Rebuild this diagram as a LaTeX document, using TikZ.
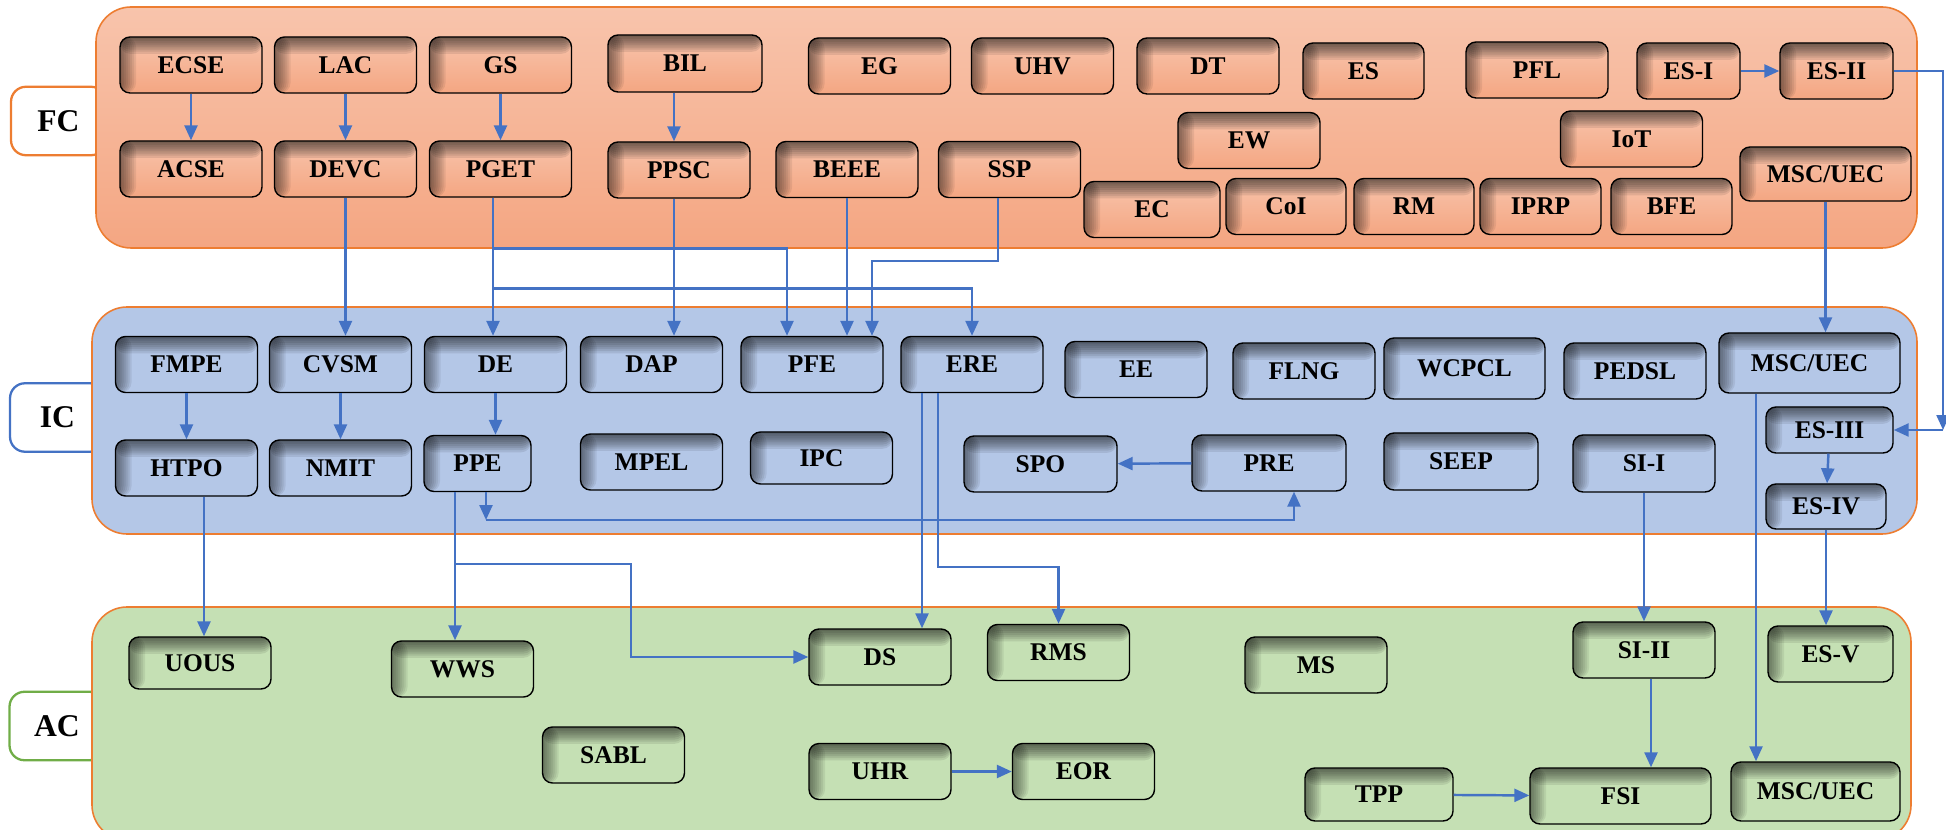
\documentclass[tikz,border=0pt]{standalone}
\usepackage{fontspec}
\setmainfont{Liberation Serif}
\usetikzlibrary{arrows.meta}

\definecolor{fctop}{RGB}{248,196,172}
\definecolor{fcbot}{RGB}{244,166,130}
\definecolor{icfill}{RGB}{180,199,231}
\definecolor{acfill}{RGB}{197,224,180}
\definecolor{panelline}{RGB}{237,125,49}
\definecolor{arrblue}{RGB}{68,114,196}
\definecolor{acline}{RGB}{112,173,71}

\tikzset{
	wd/.style={minimum width=#1*0.02cm},
	ht/.style={minimum height=#1*0.02cm},
	blk/.style={draw=black, line width=0.8pt, rounded corners=0.2cm, inner sep=0pt,
		minimum width=2.84cm, minimum height=1.12cm,
		font=\fontsize{14.5}{14.5}\selectfont\bfseries,
		path picture={
			\foreach \k in {1,...,8} {
				\fill[black, opacity=0.07] (path picture bounding box.north west) rectangle ([xshift={\k*0.04cm}]path picture bounding box.south west);
				\fill[black, opacity=0.085] (path picture bounding box.north west) rectangle ([yshift={-\k*0.042cm}]path picture bounding box.north east);
			}
		}},
	fcb/.style={blk, top color=fctop, bottom color=fcbot},
	icb/.style={blk, fill=icfill},
	acb/.style={blk, fill=acfill},
	tag/.style={fill=white, line width=1.3pt, rounded corners=0.3cm, inner sep=0pt,
		minimum width=1.9cm, minimum height=1.37cm,
		font=\fontsize{18}{18}\selectfont\bfseries},
	panel/.style={draw=panelline, line width=0.9pt, rounded corners=0.7cm},
	arr/.style={draw=arrblue, line width=1.4pt, -{Triangle[length=0.3cm,width=0.26cm]}}
}

\begin{document}
\begin{tikzpicture}[x=0.02cm, y=-0.02cm]
			%%%%% START %%%%%
			\useasboundingbox (0,0) rectangle (1946,830);
			
			% tags
			\node[tag, draw=panelline] (fc) at (58.5,121) {FC};
			\node[tag, draw=arrblue] (ic) at (57.5,417.5) {IC};
			\node[tag, draw=acline] (ac) at (57,726) {AC};
			
			% panels
			\path[panel, top color=fctop, bottom color=fcbot] (96,7) rectangle (1917,248);
			\path[panel, fill=icfill] (92,307) rectangle (1917,534);
			\path[panel, fill=acfill] (92,607) rectangle (1911,840);
			
			% FC
			\node[fcb] (ecse) at (191,65) {ECSE};
			\node[fcb] (acse) at (191,169) {ACSE};
			\node[fcb] (lac) at (345.5,65) {LAC};
			\node[fcb] (devc) at (345.5,169) {DEVC};
			\node[fcb] (gs) at (500.5,65) {GS};
			\node[fcb] (pget) at (500.5,169) {PGET};
			\node[fcb, wd=154, ht=57] (bil) at (685,63.5) {BIL};
			\node[fcb] (ppsc) at (679,170) {PPSC};
			\node[fcb] (eg) at (879.5,66) {EG};
			\node[fcb] (uhv) at (1042.5,66) {UHV};
			\node[fcb] (dt) at (1208,66) {DT};
			\node[fcb, wd=121] (es) at (1363.5,71) {ES};
			\node[fcb] (pfl) at (1537,70) {PFL};
			\node[fcb, wd=103] (es1) at (1688.5,71) {ES-I};
			\node[fcb, wd=113] (es2) at (1836.5,71) {ES-II};
			\node[fcb] (ew) at (1249,140.5) {EW};
			\node[fcb] (iot) at (1631.5,139) {IoT};
			\node[fcb] (beee) at (847,169.5) {BEEE};
			\node[fcb] (ssp) at (1009.5,169.5) {SSP};
			\node[fcb, wd=136] (ec) at (1152,209.5) {EC};
			\node[fcb, wd=120] (coi) at (1286,206.5) {CoI};
			\node[fcb, wd=120] (rm) at (1414,206.5) {RM};
			\node[fcb, wd=121] (iprp) at (1540.5,206.5) {IPRP};
			\node[fcb, wd=121] (bfe) at (1671.5,206.5) {BFE};
			\node[fcb, wd=171, ht=54] (mscf) at (1825.5,174) {MSC/UEC};
			
			% IC
			\node[icb] (fmpe) at (186.5,364.5) {FMPE};
			\node[icb] (cvsm) at (340.5,364.5) {CVSM};
			\node[icb] (de) at (495.5,364.5) {DE};
			\node[icb] (dap) at (651.5,364.5) {DAP};
			\node[icb] (pfe) at (812,364.5) {PFE};
			\node[icb] (ere) at (972,364.5) {ERE};
			\node[icb] (ee) at (1136,369.5) {EE};
			\node[icb] (flng) at (1304,371) {FLNG};
			\node[icb, wd=161, ht=61] (wcpcl) at (1464.5,368.5) {WCPCL};
			\node[icb] (pedsl) at (1635,371) {PEDSL};
			\node[icb, wd=181, ht=60] (msci) at (1809.5,363) {MSC/UEC};
			\node[icb] (htpo) at (186.5,468) {HTPO};
			\node[icb] (nmit) at (340.5,468) {NMIT};
			\node[icb, wd=107] (ppe) at (477.5,463.5) {PPE};
			\node[icb] (mpel) at (651.5,462) {MPEL};
			\node[icb, ht=52] (ipc) at (821.5,458) {IPC};
			\node[icb, wd=153] (spo) at (1040.5,464) {SPO};
			\node[icb, wd=154] (pre) at (1269,463) {PRE};
			\node[icb, wd=154, ht=57] (seep) at (1461,461.5) {SEEP};
			\node[icb, ht=57] (si1) at (1644,463.5) {SI-I};
			\node[icb, wd=127, ht=46] (es3) at (1829.5,430) {ES-III};
			\node[icb, wd=120, ht=45] (es4) at (1826,506.5) {ES-IV};
			
			% AC
			\node[acb, ht=52] (uous) at (200,663) {UOUS};
			\node[acb] (wws) at (462.5,669) {WWS};
			\node[acb] (sabl) at (613.5,755) {SABL};
			\node[acb] (ds) at (880,657) {DS};
			\node[acb] (rms) at (1058.5,652.5) {RMS};
			\node[acb] (ms) at (1316,665) {MS};
			\node[acb] (uhr) at (880,771.5) {UHR};
			\node[acb] (eor) at (1083.5,771.5) {EOR};
			\node[acb] (si2) at (1644,650) {SI-II};
			\node[acb, wd=125] (es5) at (1830.5,654) {ES-V};
			\node[acb, wd=148, ht=53] (tpp) at (1379,794.5) {TPP};
			\node[acb, wd=181] (fsi) at (1620.5,796) {FSI};
			\node[acb, wd=169, ht=59] (msca) at (1815.5,791.5) {MSC/UEC};
			
			% FC arrows
			\draw[arr] (ecse) -- (acse);
			\draw[arr] (lac) -- (devc);
			\draw[arr] (gs) -- (pget);
			\draw[arr] ([xshift=-0.1cm]ppsc.north |- bil.south) -- ([xshift=-0.1cm]ppsc.north);
			\draw[arr] (es1) -- (es2);
			\coordinate (esbend) at (1943,430);
			\draw[arr] (es2.east) -| (esbend);
			\draw[arr] (esbend) -- (es3.east);
			\draw[arr] (mscf.south) -- (mscf.south |- msci.north);
			
			% FC to IC
			\draw[arr] (devc.south) -- (devc.south |- cvsm.north);
			\coordinate (pg) at ([xshift=-0.15cm]pget.south);
			\draw[arr] (pg) -- (pg |- de.north);
			\draw[arr] (pg) -- ++(0,51) -| ([xshift=-0.5cm]pfe.north);
			\draw[arr] (pg) -- ++(0,91) -| (ere.north);
			\draw[arr] ([xshift=-0.1cm]ppsc.south) -- ([xshift=-0.1cm]ppsc.south |- dap.north);
			\draw[arr] (beee.south) -- (beee.south |- pfe.north);
			\draw[arr] ([xshift=-0.23cm]ssp.south) -- ++(0,63) -| ([xshift=1.2cm]pfe.north);
			
			% IC arrows
			\draw[arr] (fmpe) -- (htpo);
			\draw[arr] (cvsm) -- (nmit);
			\draw[arr] (de.south) -- (de.south |- ppe.north);
			\draw[arr] (pre) -- (spo);
			\coordinate (ppebend) at (486,520);
			\draw[arr] (ppe.south -| ppebend) -- (ppebend);
			\draw[arr] (ppebend) -| ([xshift=0.5cm]pre.south);
			\draw[arr] (es3) -- (es4);
			
			% IC to AC
			\draw[arr] ([xshift=0.08cm]uous.north |- htpo.south) -- ([xshift=0.08cm]uous.north);
			\coordinate (pp) at ([xshift=-0.45cm]ppe.south);
			\draw[arr] (pp) -- (pp |- wws.north);
			\draw[arr] (pp) -- ++(0,72) -- ++(176,0) |- (ds.west);
			\draw[arr] ([xshift=-1cm]ere.south) -- ([xshift=-1cm]ere.south |- ds.north);
			\draw[arr] ([xshift=-0.68cm]ere.south) -- ++(0,174) -| (rms.north);
			\draw[arr] (si1) -- (si2);
			\draw[arr] (es4.south) -- (es4.south |- es5.north);
			\draw[arr] ([xshift=-1.07cm]msci.south) -- ([xshift=-1.07cm]msci.south |- msca.north);
			
			% AC arrows
			\draw[arr] ([xshift=0.14cm]si2.south) -- ([xshift=0.14cm]si2.south |- fsi.north);
			\draw[arr] (tpp) -- (fsi);
			\draw[arr] (uhr) -- (eor);
			%%%%% END %%%%%
\end{tikzpicture}
\end{document}
